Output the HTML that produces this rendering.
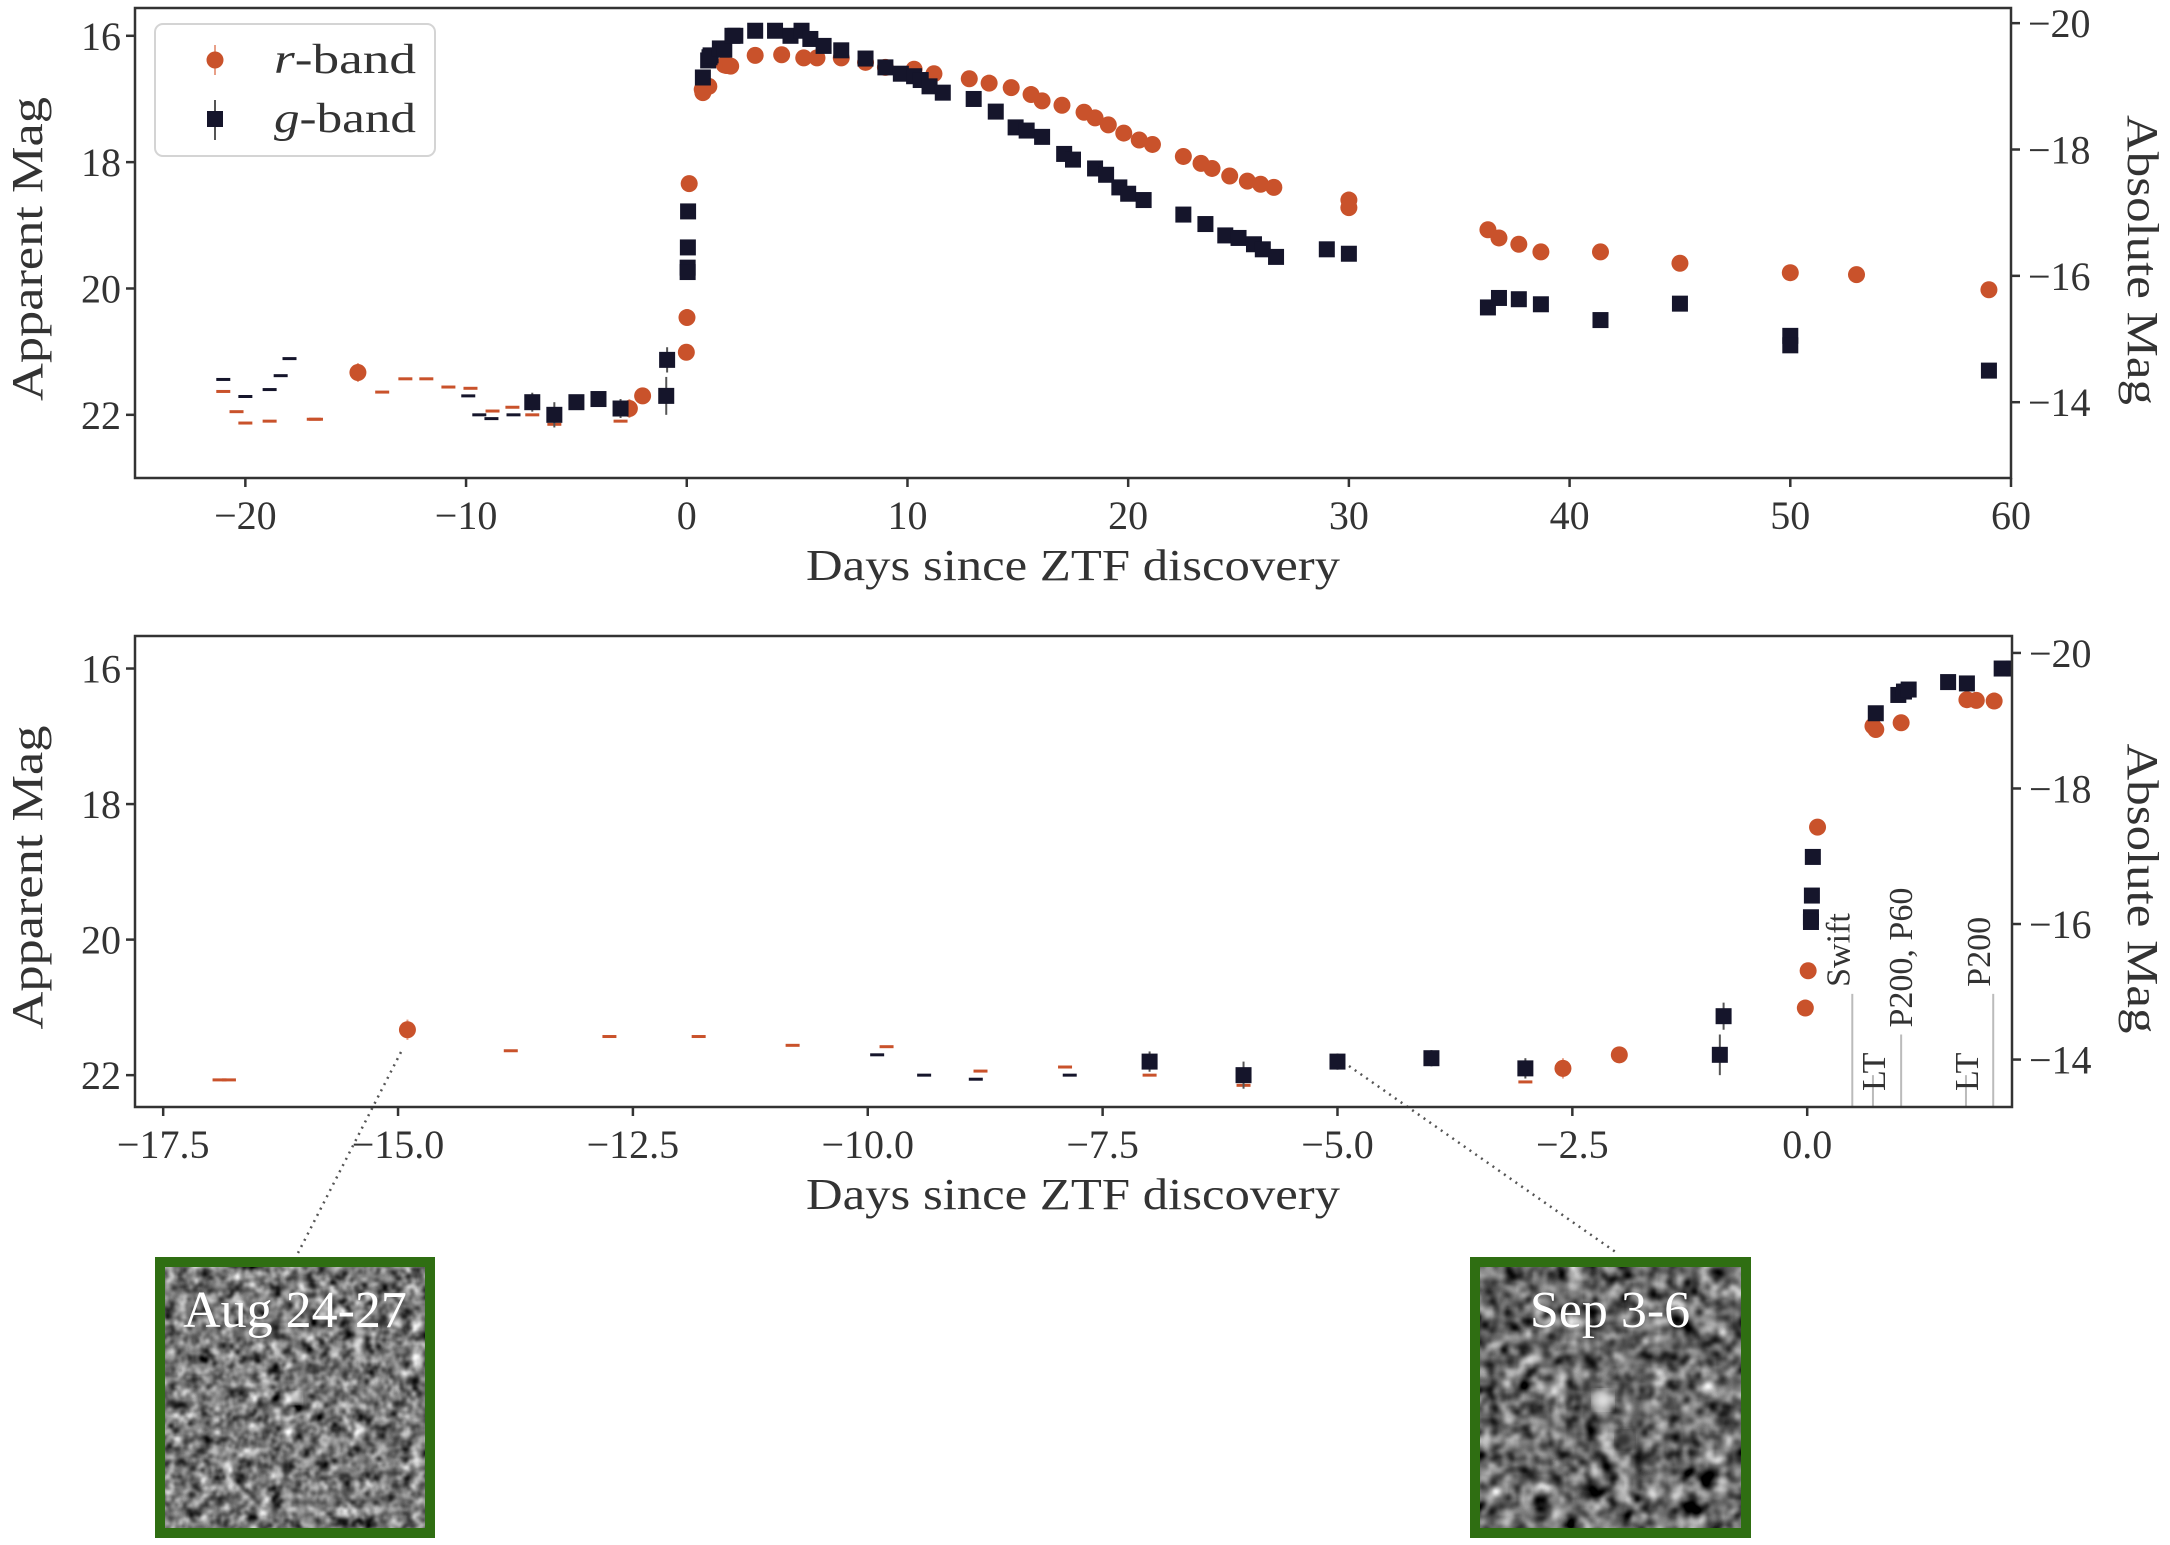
<!DOCTYPE html>
<html><head><meta charset="utf-8"><style>
html,body{margin:0;padding:0;background:#fff;}
svg{display:block;font-family:"Liberation Serif",serif;}
</style></head><body>
<svg id="fig" xmlns="http://www.w3.org/2000/svg" width="2170" height="1545" viewBox="0 0 2170 1545">
<defs>
<filter id="gray1" x="0" y="0" width="100%" height="100%" color-interpolation-filters="sRGB"><feTurbulence type="fractalNoise" baseFrequency="0.085" numOctaves="2" seed="7" result="n"/><feColorMatrix in="n" type="matrix" values="0.33 0.33 0.33 0 0  0.33 0.33 0.33 0 0  0.33 0.33 0.33 0 0  0 0 0 0 1"/><feComponentTransfer><feFuncR type="linear" slope="2.2" intercept="-0.62"/><feFuncG type="linear" slope="2.2" intercept="-0.62"/><feFuncB type="linear" slope="2.2" intercept="-0.62"/></feComponentTransfer></filter>
<filter id="gray2" x="0" y="0" width="100%" height="100%" color-interpolation-filters="sRGB"><feTurbulence type="fractalNoise" baseFrequency="0.06" numOctaves="2" seed="11" result="n"/><feColorMatrix in="n" type="matrix" values="0.33 0.33 0.33 0 0  0.33 0.33 0.33 0 0  0.33 0.33 0.33 0 0  0 0 0 0 1"/><feComponentTransfer><feFuncR type="linear" slope="2.2" intercept="-0.68"/><feFuncG type="linear" slope="2.2" intercept="-0.68"/><feFuncB type="linear" slope="2.2" intercept="-0.68"/></feComponentTransfer></filter>
<filter id="blur" color-interpolation-filters="sRGB"><feGaussianBlur stdDeviation="4"/></filter>
<clipPath id="clip1"><rect x="135" y="8" width="1876" height="470"/></clipPath>
<clipPath id="clip2"><rect x="135" y="636" width="1877" height="471"/></clipPath>
</defs>

<!-- insets -->
<g>
<rect x="160" y="1262" width="270" height="271" filter="url(#gray1)"/>
<circle cx="296" cy="1398" r="6" fill="#eee" filter="url(#blur)"/>
<rect x="160" y="1262" width="270" height="271" fill="none" stroke="#2f6e12" stroke-width="10"/>
<text x="295" y="1327" font-size="52" fill="#fff" text-anchor="middle">Aug 24-27</text>
</g>
<g>
<rect x="1475" y="1262" width="271" height="271" filter="url(#gray2)"/>
<circle cx="1603" cy="1400" r="10" fill="#ddd" filter="url(#blur)"/>
<circle cx="1625" cy="1440" r="9" fill="#333" filter="url(#blur)"/>
<rect x="1475" y="1262" width="271" height="271" fill="none" stroke="#2f6e12" stroke-width="10"/>
<text x="1610" y="1327" font-size="52" fill="#fff" text-anchor="middle">Sep 3-6</text>
</g>
<line x1="401" y1="1052" x2="298" y2="1253" stroke="#555" stroke-width="2.5" stroke-dasharray="2,5"/>
<line x1="1349" y1="1066" x2="1617" y2="1253" stroke="#555" stroke-width="2.5" stroke-dasharray="2,5"/>
</svg>
<script>
// ---- data ----
const rDays = [-14.9,-2.6,-2.0,-0.02,0.01,0.11,0.7,0.73,1.0,1.8,3.1,4.3,5.3,5.9,7.0,8.1,9.0,10.3,11.2,12.8,13.7,14.7,15.6,16.1,17.0,18.0,18.5,19.1,19.8,20.5,21.1,22.5,23.3,23.8,24.6,25.4,26.0,26.6,30.0,30.0,36.3,36.8,37.7,38.7,41.4,45.0,50.0,53.0,59.0,1.7,1.99];
const rMags = [21.33,21.9,21.7,21.01,20.46,18.34,16.85,16.9,16.8,16.47,16.31,16.3,16.35,16.35,16.35,16.42,16.5,16.53,16.6,16.68,16.75,16.82,16.93,17.03,17.1,17.21,17.3,17.41,17.54,17.65,17.72,17.91,18.02,18.1,18.22,18.3,18.35,18.4,18.6,18.72,19.07,19.2,19.3,19.42,19.42,19.6,19.75,19.78,20.02,16.46,16.48];
const rErr  = [0.15,0.15,0.1,0.1,0.1,0.05,0.03,0.03,0.03,0.02,0.02,0.02,0.02,0.02,0.02,0.02,0.02,0.02,0.02,0.02,0.02,0.02,0.02,0.02,0.02,0.02,0.02,0.02,0.02,0.02,0.02,0.02,0.02,0.02,0.02,0.02,0.02,0.02,0.03,0.03,0.03,0.03,0.03,0.03,0.03,0.04,0.04,0.04,0.05,0.03,0.03];
const gDays = [-7,-6,-5,-4,-3,-0.93,-0.89,0.04,0.05,0.06,0.04,0.73,0.97,1.03,1.08,1.5,2.2,3.1,4.0,4.7,5.2,5.6,6.2,7.0,8.1,9.0,9.7,10.3,10.6,11.0,11.6,13.0,14.0,14.9,15.4,16.1,17.1,17.5,18.5,19.0,19.6,20.0,20.7,22.5,23.5,24.4,25.0,25.7,26.1,26.7,29.0,30.0,36.3,36.8,37.7,38.7,41.4,45.0,50.0,50.0,59.0,1.7,2.07];
const gMags = [21.8,22.0,21.8,21.75,21.9,21.7,21.13,19.67,19.35,18.78,19.74,16.66,16.39,16.34,16.31,16.2,16.0,15.92,15.92,16.0,15.92,16.05,16.16,16.23,16.36,16.5,16.6,16.64,16.7,16.8,16.9,17.0,17.2,17.45,17.5,17.6,17.87,17.96,18.1,18.2,18.4,18.5,18.6,18.83,18.98,19.16,19.2,19.3,19.38,19.5,19.38,19.45,20.3,20.15,20.17,20.25,20.5,20.24,20.75,20.9,21.3,16.22,16.0];
const gErr  = [0.15,0.2,0.12,0.12,0.15,0.3,0.2,0.05,0.05,0.05,0.05,0.03,0.03,0.03,0.03,0.02,0.02,0.02,0.02,0.02,0.02,0.02,0.02,0.02,0.02,0.02,0.02,0.02,0.02,0.02,0.02,0.02,0.02,0.02,0.02,0.02,0.02,0.02,0.02,0.02,0.02,0.02,0.02,0.02,0.02,0.02,0.02,0.02,0.02,0.02,0.03,0.03,0.08,0.1,0.08,0.1,0.05,0.06,0.08,0.08,0.05,0.03,0.03];
const rLimDays = [-21.0,-20.4,-20.0,-18.9,-16.9,-16.8,-13.8,-12.75,-11.8,-10.8,-9.8,-8.8,-7.9,-7.0,-6.0,-3.0];
const rLimMags = [21.63,21.95,22.13,22.1,22.07,22.07,21.64,21.43,21.43,21.56,21.58,21.94,21.88,22.0,22.15,22.1];
const gLimDays = [-21.0,-20.0,-18.9,-18.4,-18.0,-9.9,-9.4,-8.85,-7.85];
const gLimMags = [21.44,21.71,21.6,21.38,21.11,21.7,22.0,22.06,22.0];
const xTicks1 = [-20,-10,0,10,20,30,40,50,60];
const xTicks2 = [-17.5,-15.0,-12.5,-10.0,-7.5,-5.0,-2.5,0.0];
const yTicks = [16,18,20,22];
const absTicks = [-20,-18,-16,-14];
const facDays = [0.48,0.7,1.0,1.69,1.98];
const facNames = ["Swift","LT","P200, P60","LT","P200"];
const facTopMag = [20.8,22.0,21.4,22.0,20.8];

const svg = document.getElementById('fig');
const NS = 'http://www.w3.org/2000/svg';
function mk(tag, attrs, parent){const e=document.createElementNS(NS,tag);for(const k in attrs)e.setAttribute(k,attrs[k]);(parent||svg).appendChild(e);return e;}

const R_COL = '#c9522b', G_COL = '#15152b', AX = '#333';
const panels = [
 {x0:135,x1:2011,y0:8,y1:478,xmin:-25,xmax:60,ymin:15.56,ymax:23,dm:35.8,xt:xTicks1,clip:'clip1',fmt:v=>String(v),name:'top',xl:566},
 {x0:135,x1:2012,y0:636,y1:1107,xmin:-17.8,xmax:2.18,ymin:15.52,ymax:22.47,dm:35.77,xt:xTicks2,clip:'clip2',fmt:v=>v.toFixed(1),name:'bottom',xl:1195}
];
function minus(s){return s.replace('-','\u2212');}

panels.forEach((p,pi)=>{
 const X = d => p.x0 + (d-p.xmin)/(p.xmax-p.xmin)*(p.x1-p.x0);
 const Y = m => p.y0 + (m-p.ymin)/(p.ymax-p.ymin)*(p.y1-p.y0);
 const g = mk('g',{});
 
 
 const data = mk('g',{'clip-path':'url(#'+p.clip+')'},g);
 
 
 rLimDays.forEach((d,i)=>{
  const l = mk('line',{x1:X(d)-7,x2:X(d)+7,y1:Y(rLimMags[i]),y2:Y(rLimMags[i]),stroke:R_COL,'stroke-width':3},data);
  
  
 });
 gLimDays.forEach((d,i)=>{
  const l = mk('line',{x1:X(d)-7,x2:X(d)+7,y1:Y(gLimMags[i]),y2:Y(gLimMags[i]),stroke:G_COL,'stroke-width':3},data);
  
  
 });
 rDays.forEach((d,i)=>{
  const e = mk('line',{x1:X(d),x2:X(d),y1:Y(rMags[i]-rErr[i]),y2:Y(rMags[i]+rErr[i]),stroke:'#e8a088','stroke-width':2},data);
  
  
  const c = mk('circle',{cx:X(d),cy:Y(rMags[i]),r:8.5,fill:R_COL},data);
  
  
 });
 gDays.forEach((d,i)=>{
  const e = mk('line',{x1:X(d),x2:X(d),y1:Y(gMags[i]-gErr[i]),y2:Y(gMags[i]+gErr[i]),stroke:'#555','stroke-width':2},data);
  
  
  const s = mk('rect',{x:X(d)-8,y:Y(gMags[i])-8,width:16,height:16,fill:G_COL},data);
  
  
 });
 if(pi===1){
  facDays.forEach((d,i)=>{
   const x = X(d);
   const l = mk('line',{x1:x,x2:x,y1:p.y1,y2:Y(facTopMag[i]),stroke:'#bbb','stroke-width':2},g);
   
   
   const isLT = facNames[i]==='LT';
   const ty = isLT ? 1091 : Y(facTopMag[i]) - 7;
   const tx = isLT ? x+12 : (facNames[i]==='P200, P60' ? x+11 : x-3);
   const t = mk('text',{x:tx,y:ty,'font-size':34,fill:'#333',transform:'rotate(-90 '+tx+' '+ty+')'},g);
   t.textContent = facNames[i];
   
   
  });
 }
 const fr = mk('rect',{x:p.x0,y:p.y0,width:p.x1-p.x0,height:p.y1-p.y0,fill:'none',stroke:AX,'stroke-width':2.5},g);
 
 
 p.xt.forEach(v=>{
  const x = X(v);
  const tk = mk('line',{x1:x,x2:x,y1:p.y1,y2:p.y1+9,stroke:AX,'stroke-width':2.5},g);
  
  
  const t = mk('text',{x:x,y:p.y1+51,'font-size':40,'text-anchor':'middle',fill:'#333'},g);
  t.textContent = minus(p.fmt(v));
  
  
 });
 yTicks.forEach(v=>{
  const y = Y(v);
  const tk = mk('line',{x1:p.x0-9,x2:p.x0,y1:y,y2:y,stroke:AX,'stroke-width':2.5},g);
  
  
  const t = mk('text',{x:p.x0-14,y:y+14,'font-size':40,'text-anchor':'end',fill:'#333'},g);
  t.textContent = String(v);
  
  
 });
 absTicks.forEach(v=>{
  const y = Y(v+p.dm);
  const tk = mk('line',{x1:p.x1,x2:p.x1+9,y1:y,y2:y,stroke:AX,'stroke-width':2.5},g);
  
  
  const t = mk('text',{x:p.x1+17,y:y+14,'font-size':40,fill:'#333'},g);
  t.textContent = minus(String(v));
  
  
 });
 const xl = mk('text',{x:1073,y:p.xl+14,'font-size':44,'text-anchor':'middle',fill:'#333',textLength:534,lengthAdjust:'spacingAndGlyphs'},g);
 xl.textContent = 'Days since ZTF discovery';
 
 
 const cy = (p.y0+p.y1)/2 + 6;
 const yl = mk('text',{x:0,y:0,'font-size':44,'text-anchor':'middle',fill:'#333',textLength:304,lengthAdjust:'spacingAndGlyphs',transform:'translate(42 '+cy+') rotate(-90)'},g);
 yl.textContent = 'Apparent Mag';
 
 
 const al = mk('text',{x:0,y:0,'font-size':44,'text-anchor':'middle',fill:'#333',textLength:290,lengthAdjust:'spacingAndGlyphs',transform:'translate(2128 '+(cy+11)+') rotate(90)'},g);
 al.textContent = 'Absolute Mag';
 
 
 if(pi===0){
  const lg = mk('g',{},g);
  
  
  mk('rect',{x:155,y:24,width:280,height:132,rx:8,fill:'#fff',stroke:'#d4d4d4','stroke-width':2},lg);
  mk('line',{x1:215,x2:215,y1:45,y2:75,stroke:'#e8a088','stroke-width':2},lg);
  const lc = mk('circle',{cx:215,cy:60,r:8.5,fill:R_COL},lg);
  
  
  const t1 = mk('text',{x:274,y:73,'font-size':42,fill:'#333',textLength:142,lengthAdjust:'spacingAndGlyphs'},lg);
  t1.innerHTML = '<tspan font-style="italic">r</tspan>-band';
  
  
  mk('line',{x1:215,x2:215,y1:100,y2:140,stroke:'#555','stroke-width':2},lg);
  const ls = mk('rect',{x:207,y:111,width:16,height:16,fill:G_COL},lg);
  
  
  const t2 = mk('text',{x:274,y:132,'font-size':42,fill:'#333',textLength:142,lengthAdjust:'spacingAndGlyphs'},lg);
  t2.innerHTML = '<tspan font-style="italic">g</tspan>-band';
  
  
 }
});
</script>
</body></html>
